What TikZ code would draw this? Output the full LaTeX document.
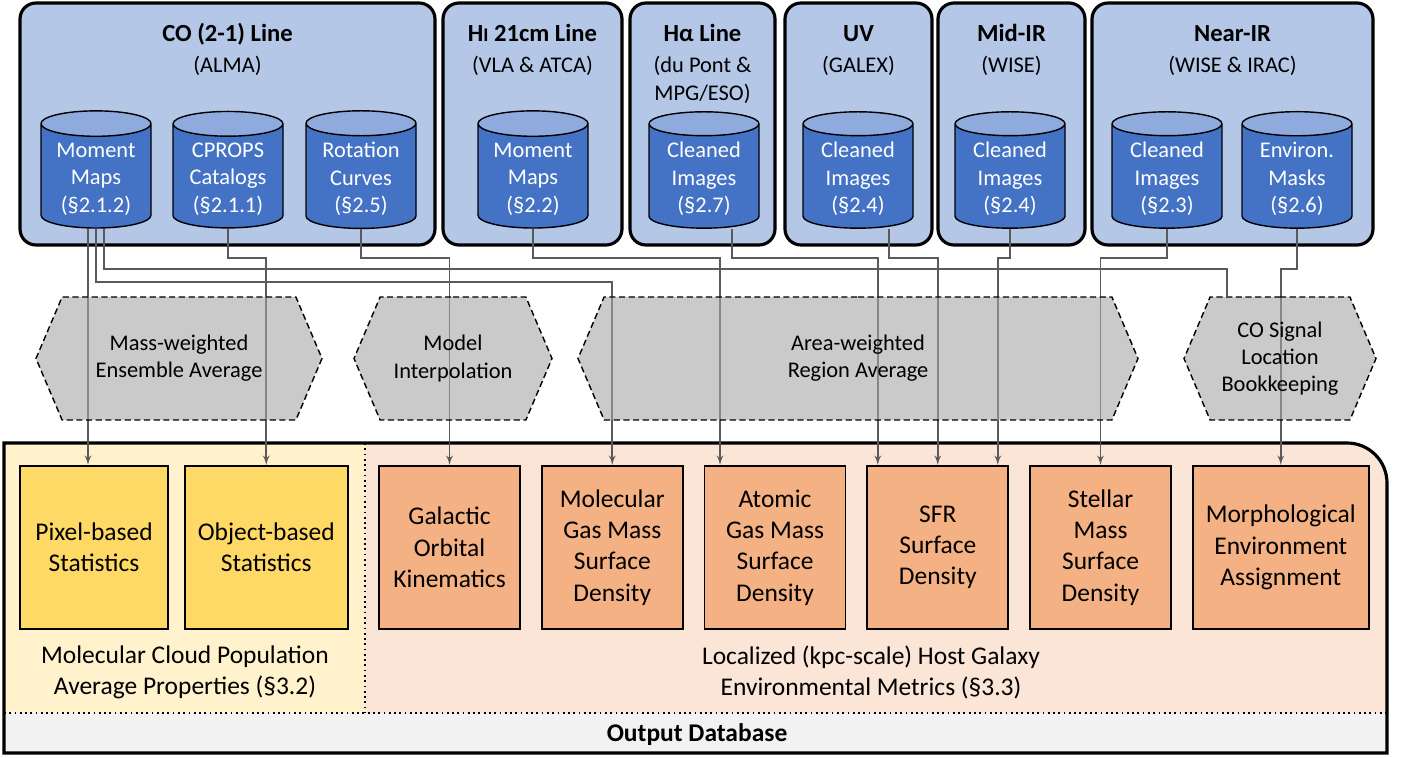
\documentclass[tikz,border=0pt]{standalone}
\usepackage{fontspec}
\setmainfont{Carlito}
\usepackage{tikz}
\usetikzlibrary{shapes,arrows,positioning,calc}

\definecolor{panelblue}{HTML}{B4C7E7}
\definecolor{dbbody}{HTML}{4472C4}
\definecolor{dbtop}{HTML}{8FAADC}
\definecolor{statyellow}{HTML}{FFD966}
\definecolor{metricorange}{HTML}{F4B183}
\definecolor{popyellow}{HTML}{FFF2CC}
\definecolor{envpeach}{HTML}{FBE5D6}
\definecolor{dbgray}{HTML}{F2F2F2}
\definecolor{wiregray}{HTML}{5A5A5A}

\pgfdeclarelayer{front}
\pgfsetlayers{main,front}

\begin{document}
\begin{tikzpicture}[node distance=0.4cm, auto,
    panel/.style={rectangle, draw, line width=1.8pt, fill=panelblue, rounded corners=0.32cm, minimum height=4.84cm},
    heading/.style={anchor=base, font=\fontsize{14}{17}\selectfont\bfseries},
    source/.style={anchor=base, align=center, font=\fontsize{12.75}{15.8}\selectfont},
    database/.style={cylinder, shape border rotate=90, aspect=0.28, draw, line width=0.8pt, cylinder uses custom fill, cylinder body fill=dbbody, cylinder end fill=dbtop, text=white, align=center, minimum width=2.2cm, minimum height=2.3cm, font=\fontsize{12.75}{15.6}\selectfont},
    method/.style={signal, signal to=west and east, signal pointer angle=134, draw, dash pattern=on 3.5pt off 2pt, line width=0.8pt, fill=black!35, fill opacity=0.6, text opacity=1, align=center, minimum height=2.46cm, inner sep=1pt, font=\fontsize{12.75}{15.4}\selectfont},
    stats/.style={rectangle, draw, line width=1pt, fill=statyellow, minimum height=3.26cm, align=center, font=\fontsize{14.5}{17.4}\selectfont},
    metric/.style={rectangle, draw, line width=1pt, fill=metricorange, minimum width=2.82cm, minimum height=3.26cm, align=center, font=\fontsize{14.5}{17.8}\selectfont},
    caption/.style={align=center, font=\fontsize{14.5}{17.6}\selectfont},
    line/.style={draw=wiregray, -latex', line width=0.9pt},
    wire/.style={draw=wiregray, line width=0.9pt}]

    \useasboundingbox (0,0) rectangle (28.16,-15.16);

    % Top row - observing panels
    \node [panel, minimum width=8.3cm] (copanel) at (4.55,-2.48) {};
    \node [panel, minimum width=3.58cm] (hipanel) at (10.65,-2.48) {};
    \node [panel, minimum width=2.9cm] (hapanel) at (14.05,-2.48) {};
    \node [panel, minimum width=2.94cm] (uvpanel) at (17.17,-2.48) {};
    \node [panel, minimum width=2.94cm] (mirpanel) at (20.23,-2.48) {};
    \node [panel, minimum width=5.62cm] (nirpanel) at (24.65,-2.48) {};

    \node [heading] (cohead) at ([yshift=-0.8cm]copanel.north) {CO (2-1) Line};
    \node [source] (cosrc) at ([yshift=-1.42cm]copanel.north) {(ALMA)};
    \node [heading] (hihead) at ([yshift=-0.8cm]hipanel.north) {H{\fontsize{11}{13}\selectfont I} 21cm Line};
    \node [source] (hisrc) at ([yshift=-1.42cm]hipanel.north) {(VLA \& ATCA)};
    \node [heading] (hahead) at ([yshift=-0.8cm]hapanel.north) {Hα Line};
    \node [source] (hasrc) at ([yshift=-1.98cm]hapanel.north) {(du Pont \&\\MPG/ESO)};
    \node [heading] (uvhead) at ([yshift=-0.8cm]uvpanel.north) {UV};
    \node [source] (uvsrc) at ([yshift=-1.42cm]uvpanel.north) {(GALEX)};
    \node [heading] (mirhead) at ([yshift=-0.8cm]mirpanel.north) {Mid-IR};
    \node [source] (mirsrc) at ([yshift=-1.42cm]mirpanel.north) {(WISE)};
    \node [heading] (nirhead) at ([yshift=-0.8cm]nirpanel.north) {Near-IR};
    \node [source] (nirsrc) at ([yshift=-1.42cm]nirpanel.north) {(WISE \& IRAC)};

    % Data products
    \node [database] (comom) at (1.92,-3.58) {Moment\\Maps\\(§2.1.2)};
    \node [database] (cprops) at (4.56,-3.58) {CPROPS\\Catalogs\\(§2.1.1)};
    \node [database] (rotcurve) at (7.22,-3.58) {Rotation\\Curves\\(§2.5)};
    \node [database] (himom) at (10.66,-3.58) {Moment\\Maps\\(§2.2)};
    \node [database] (haimg) at (14.08,-3.58) {Cleaned\\Images\\(§2.7)};
    \node [database] (uvimg) at (17.16,-3.58) {Cleaned\\Images\\(§2.4)};
    \node [database] (mirimg) at (20.2,-3.58) {Cleaned\\Images\\(§2.4)};
    \node [database] (nirimg) at (23.34,-3.58) {Cleaned\\Images\\(§2.3)};
    \node [database] (envmask) at (25.94,-3.58) {Environ.\\Masks\\(§2.6)};

    % Middle row - processing steps
    \begin{pgfonlayer}{front}
    \node [method, minimum width=5.72cm] (massavg) at (3.58,-7.17) {Mass-weighted\\Ensemble Average};
    \node [method, minimum width=3.96cm] (interp) at (9.06,-7.17) {Model\\Interpolation};
    \node [method, minimum width=11.2cm] (areaavg) at (17.16,-7.17) {Area-weighted\\Region Average};
    \node [method, minimum width=3.84cm] (cosig) at (25.6,-7.17) {CO Signal\\Location\\Bookkeeping};
    \end{pgfonlayer}

    % Bottom - output database
    \fill [popyellow] (0.08,-8.86) rectangle (7.3,-14.26);
    \fill [envpeach] (7.3,-14.26) -- (7.3,-8.86) [rounded corners=0.8cm] -- (27.74,-8.86) [sharp corners] -- (27.74,-14.26) -- cycle;
    \fill [dbgray] (0.08,-14.26) rectangle (27.74,-15.06);
    \draw [dotted, line width=1pt] (7.3,-8.86) -- (7.3,-14.26);
    \draw [dotted, line width=1pt] (0.08,-14.26) -- (27.74,-14.26);
    \draw [line width=1.8pt] (0.08,-15.06) -- (0.08,-8.86) [rounded corners=0.8cm] -- (27.74,-8.86) [sharp corners] -- (27.74,-15.06) -- cycle;
    \node [font=\fontsize{14.5}{17}\selectfont\bfseries] (outdb) at (13.94,-14.7) {Output Database};

    \node [stats, minimum width=2.96cm] (pixstat) at (1.88,-10.95) {Pixel-based\\Statistics};
    \node [stats, minimum width=3.26cm, right=0.3cm of pixstat] (objstat) {Object-based\\Statistics};
    \node [metric] (galkin) at (8.99,-10.95) {Galactic\\Orbital\\Kinematics};
    \node [metric, right=of galkin] (molgas) {Molecular\\Gas Mass\\Surface\\Density};
    \node [metric, right=of molgas] (atomgas) {Atomic\\Gas Mass\\Surface\\Density};
    \node [metric, right=of atomgas] (sfr) {SFR\\Surface\\Density};
    \node [metric, right=of sfr] (stellar) {Stellar\\Mass\\Surface\\Density};
    \node [metric, minimum width=3.52cm, right=of stellar] (morph) {Morphological\\Environment\\Assignment};

    \node [caption] (popcap) at (3.7,-13.44) {Molecular Cloud Population\\Average Properties (§3.2)};
    \node [caption] (envcap) at (17.42,-13.44) {Localized (kpc-scale) Host Galaxy\\Environmental Metrics (§3.3)};

    % Data flow wiring
    \coordinate (busa) at (0,-5.16);
    \coordinate (busb) at (0,-5.38);
    \coordinate (busc) at (0,-5.64);
    \coordinate (mmleft) at ([xshift=-0.16cm]comom.south);
    \coordinate (mmright) at ([xshift=0.16cm]comom.south);
    \coordinate (haexit) at ([xshift=0.56cm]haimg.south);
    \coordinate (uvexit) at ([xshift=0.62cm]uvimg.south);

    \path [line] (mmleft) -- (mmleft |- pixstat.north);
    \path [line] (comom.south) -- (comom.south |- busc) -| (molgas.north);
    \path [wire] (mmright) -- (mmright |- busb) -| ([xshift=-1.06cm]cosig.north);
    \path [line] (cprops.south) -- (cprops.south |- busa) -| (objstat.north);
    \path [line] (rotcurve.south) -- (rotcurve.south |- busa) -| (galkin.north);
    \path [line] (himom.south) -- (himom.south |- busa) -| ([xshift=-1.1cm]atomgas.north);
    \path [line] (haexit) -- (haexit |- busa) -| ([xshift=-1.2cm]sfr.north);
    \path [line] (uvexit) -- (uvexit |- busa) -| (sfr.north);
    \path [line] (mirimg.south) -- (mirimg.south |- busa) -| ([xshift=1.2cm]sfr.north);
    \path [line] (nirimg.south) -- (nirimg.south |- busa) -| (stellar.north);
    \path [line] (envmask.south) -- (envmask.south |- busb) -| (morph.north);
\end{tikzpicture}
\end{document}
